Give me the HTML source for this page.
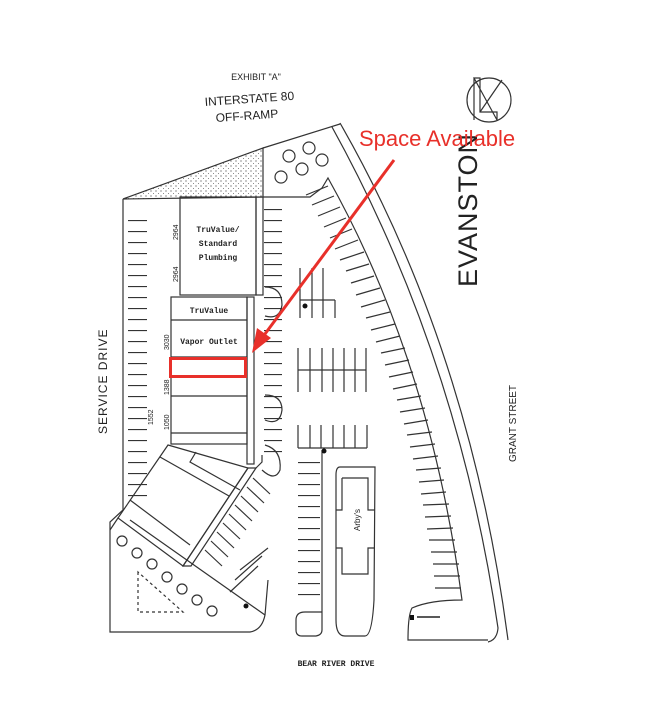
<!DOCTYPE html>
<html><head><meta charset="utf-8"><style>
html,body{margin:0;padding:0;background:#fff}
svg{display:block}
.t{font-family:"Liberation Sans",sans-serif;fill:#222}
.m{font-family:"Liberation Mono",monospace;fill:#222;font-weight:bold}
</style></head><body>
<svg width="650" height="713" viewBox="0 0 650 713" xmlns="http://www.w3.org/2000/svg">
<defs>
<pattern id="hl" width="30" height="11" patternUnits="userSpaceOnUse"><line x1="0" y1="0.5" x2="30" y2="0.5" stroke="#333" stroke-width="1.2"/></pattern>
<pattern id="dots" width="5" height="5" patternUnits="userSpaceOnUse"><circle cx="1" cy="1" r="0.6" fill="#444"/><circle cx="3.5" cy="3.5" r="0.5" fill="#666"/></pattern>
</defs>
<g fill="none" stroke="#333" stroke-width="1.2">
<polygon points="123,199 263,148 263,197" fill="url(#dots)"/>
<line x1="263" y1="148" x2="340" y2="124"/>
<path d="M340,123 Q470,350 508,640"/>
<path d="M332,127 Q458,355 498,628 Q497,640 488,642"/>
<path d="M263,197 L310,197 L322,188 L328,178 Q430,360 462,600 Q430,600 412,608 Q408,615 408,640 L488,640"/>
<path d="M123,199 L123,510 L110,522 L110,632 L250,632 Q262,630 265,615 L268,580"/>
<rect x="128" y="214" width="19" height="290" fill="url(#hl)" stroke="none"/>
<rect x="180" y="197" width="76" height="98"/>
<rect x="256" y="197" width="7" height="98"/>
<rect x="264" y="200" width="18" height="260" fill="url(#hl)" stroke="none"/>
<rect x="171" y="297" width="76" height="147"/>
<line x1="171" y1="320" x2="247" y2="320"/>
<line x1="171" y1="357" x2="247" y2="357"/>
<line x1="171" y1="396" x2="247" y2="396"/>
<line x1="171" y1="433" x2="247" y2="433"/>
<rect x="247" y="297" width="7" height="167"/>
<polygon points="168,445 248,468 183,566 118,518"/>
<polygon points="248,468 256,468 191,566 183,566"/>
<line x1="160" y1="457" x2="229" y2="496"/>
<line x1="130" y1="500" x2="190" y2="545"/>
<path d="M196,452 L190,462 L240,490"/>
<path d="M118,518 L110,530 M130,520 L265,615"/>
<path d="M256,468 L262,462 L262,455"/>
<path d="M253,478 L270,494 M247,487 L264,503 M241,496 L258,512 M235,505 L252,521 M229,514 L246,530 M223,523 L240,539 M217,532 L234,548 M211,541 L228,557 M205,550 L222,566 M240,570 L268,548 M235,580 L262,556 M230,592 L258,566"/>
<path d="M265,445 Q282,450 280,470 Q275,482 262,470"/>
<path d="M265,395 Q282,395 282,410 Q280,426 265,420"/>
<path d="M265,287 Q282,287 282,305 Q280,320 265,316"/>
<path d="M138,572 L138,612 L183,612 Z" stroke-dasharray="3,3"/>
<g>
<circle cx="122" cy="541" r="5"/><circle cx="137" cy="553" r="5"/><circle cx="152" cy="564" r="5"/><circle cx="167" cy="577" r="5"/><circle cx="182" cy="589" r="5"/><circle cx="197" cy="600" r="5"/><circle cx="212" cy="611" r="5"/>
<circle cx="289" cy="156" r="6"/><circle cx="309" cy="148" r="6"/><circle cx="322" cy="160" r="6"/><circle cx="302" cy="169" r="6"/><circle cx="281" cy="177" r="6"/>
</g>
<path d="M300,268 V318 M312,268 V318 M323,268 V318 M300,300 H335 M323,300 V318 M335,300 V318"/>
<path d="M298,348 V392 M310,348 V392 M322,348 V392 M333,348 V392 M344,348 V392 M355,348 V392 M366,348 V392 M298,370 H366"/>
<path d="M298,425 V448 M310,425 V448 M321,425 V448 M333,425 V448 M344,425 V448 M355,425 V448 M367,425 V448 M298,448 H367"/>
<path d="M322,450 L322,630 Q322,635 316,636 L302,636 Q296,636 296,630 L296,620 Q296,612 305,612 L322,612"/>
<rect x="298" y="460" width="22" height="140" fill="url(#hl)" stroke="none"/>
<path d="M340,467 H375 L374,600 Q372,636 365,636 L345,636 Q336,636 336,620 V475 Q336,467 340,467 Z"/>
<path d="M342,478 H368 V510 H375 M342,478 V510 H336 M336,548 H342 V574 H368 V548 H375"/>
<path d="M328,186 L306,195 M334,196 L312,205 M340,207 L318,216 M346,218 L324,227 M352,229 L330,238 M358,240 L335,249 M364,252 L340,260 M369,264 L346,271 M374,276 L351,283 M380,288 L356,295 M385,300 L361,307 M390,312 L366,318 M395,324 L371,330 M400,336 L376,342 M405,348 L381,353 M409,360 L385,365 M413,372 L389,377 M417,384 L393,389 M421,396 L397,400 M425,408 L400,412 M428,420 L404,424 M432,432 L407,435 M435,444 L410,447 M438,456 L413,459 M441,468 L416,470 M444,480 L419,482 M446,492 L421,494 M449,504 L423,505 M451,516 L425,517 M453,528 L427,529 M455,540 L429,540 M457,552 L431,552 M459,564 L433,564 M460,576 L434,576 M461,588 L435,588"/>
<circle cx="489" cy="100" r="22"/>
<path d="M474,78 V120 M474,78 H480 V112 H497 V120 Z M480,112 L502,80"/>
</g>
<circle cx="305" cy="306" r="2.5" fill="#111"/>
<circle cx="324" cy="451" r="2.5" fill="#111"/>
<circle cx="246" cy="606" r="2.5" fill="#111"/>
<rect x="410" y="615" width="4" height="5" fill="#111"/>
<line x1="417" y1="617" x2="440" y2="617" stroke="#222" stroke-width="1.5"/>
<text x="256" y="80" class="t" font-size="9" text-anchor="middle">EXHIBIT "A"</text>
<text x="205" y="106" class="t" font-size="12" transform="rotate(-4 205 106)">INTERSTATE 80</text>
<text x="216" y="122" class="t" font-size="12" transform="rotate(-4 216 122)">OFF-RAMP</text>
<text x="107" y="434" class="t" font-size="12" transform="rotate(-90 107 434)" letter-spacing="1">SERVICE DRIVE</text>
<text x="477" y="287" class="t" font-size="27" transform="rotate(-90 477 287)" letter-spacing="1">EVANSTON</text>
<text x="516" y="462" class="t" font-size="10" transform="rotate(-90 516 462)">GRANT STREET</text>
<text x="336" y="666" class="m" font-size="8" text-anchor="middle" font-weight="normal">BEAR RIVER DRIVE</text>
<text x="218" y="232" class="m" font-size="8" text-anchor="middle">TruValue/</text>
<text x="218" y="246" class="m" font-size="8" text-anchor="middle">Standard</text>
<text x="218" y="260" class="m" font-size="8" text-anchor="middle">Plumbing</text>
<text x="209" y="313" class="m" font-size="8" text-anchor="middle">TruValue</text>
<text x="209" y="344" class="m" font-size="8" text-anchor="middle">Vapor Outlet</text>
<text x="360" y="520" class="t" font-size="8" transform="rotate(-90 360 520)" text-anchor="middle">Arby's</text>
<text x="178" y="240" class="t" font-size="7" transform="rotate(-90 178 240)">2964</text>
<text x="178" y="282" class="t" font-size="7" transform="rotate(-90 178 282)">2964</text>
<text x="169" y="350" class="t" font-size="7" transform="rotate(-90 169 350)">3030</text>
<text x="169" y="395" class="t" font-size="7" transform="rotate(-90 169 395)">1388</text>
<text x="169" y="430" class="t" font-size="7" transform="rotate(-90 169 430)">1050</text>
<text x="153" y="425" class="t" font-size="7" transform="rotate(-90 153 425)">1552</text>
<text x="359" y="146" font-family="Liberation Sans,sans-serif" font-size="22" fill="#e8302a">Space Available</text>
<rect x="170.5" y="358.5" width="75" height="18" fill="none" stroke="#e8302a" stroke-width="3"/>
<line x1="394" y1="160" x2="262" y2="338" stroke="#e8302a" stroke-width="3"/>
<polygon points="252,353 257,328 271,338" fill="#e8302a"/>
</svg>
</body></html>
